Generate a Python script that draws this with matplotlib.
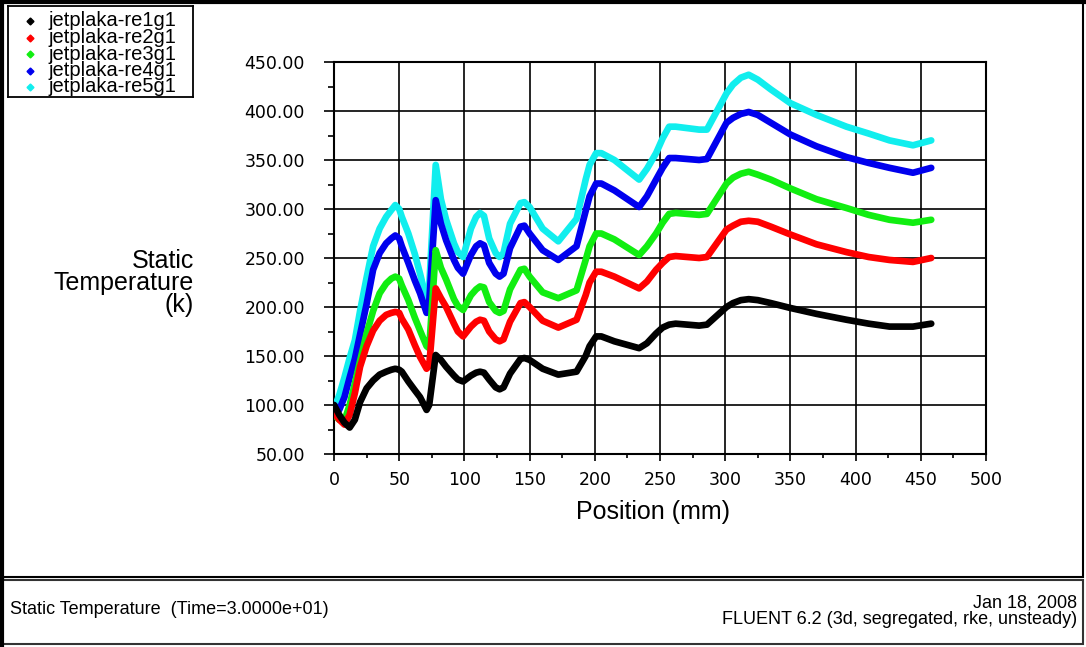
import matplotlib
matplotlib.use('Agg')
import matplotlib.pyplot as plt
from matplotlib.patches import Rectangle
from matplotlib.ticker import MultipleLocator, FormatStrFormatter

W, H = 1086, 647

# position along the plate (mm)
position = [0, 4, 8, 12, 16, 20, 25, 30, 35, 40,
            44, 47, 50, 52, 57, 62, 66, 71, 73, 78,
            82, 86, 92, 95, 99, 105, 109, 112, 115, 119,
            124, 127, 130, 135, 143, 146, 150, 160, 172, 186,
            193, 196, 201, 205, 215, 234, 240, 247, 252, 257,
            262, 280, 286, 301, 306, 312, 318, 325, 335, 350,
            370, 393, 410, 426, 444, 458]

# static temperature (k) for each case
re1g1 = [100, 90, 82, 77, 85, 103, 117, 125, 131, 134,
         136, 137, 136, 134, 124, 115, 108, 95, 100, 151,
         146, 139, 130, 126, 124, 130, 133, 134, 133, 126,
         118, 116, 118, 132, 147, 148, 146, 137, 131, 134,
         150, 160, 170, 170, 165, 158, 163, 173, 179, 182,
         183, 181, 182, 200, 204, 207, 208, 207, 204, 199,
         193, 187, 183, 180, 180, 183]
re2g1 = [92, 85, 80, 90, 112, 139, 160, 176, 186, 192,
         194, 195, 194, 188, 177, 161, 149, 137, 140, 219,
         209, 200, 183, 175, 170, 180, 185, 187, 186, 175,
         167, 165, 167, 185, 204, 205, 200, 186, 179, 187,
         212, 225, 236, 236, 231, 219, 226, 238, 245, 251,
         252, 250, 251, 279, 283, 287, 288, 287, 282, 274,
         264, 256, 251, 248, 246, 250]
re3g1 = [90, 85, 84, 100, 122, 145, 173, 196, 214, 224,
         229, 231, 229, 222, 207, 189, 176, 160, 158, 258,
         240, 228, 208, 201, 197, 212, 218, 221, 220, 205,
         196, 194, 196, 218, 238, 239, 231, 215, 209, 217,
         248, 262, 275, 275, 269, 253, 262, 275, 286, 295,
         296, 294, 295, 326, 332, 336, 338, 335, 330, 321,
         310, 301, 294, 289, 286, 289]
re4g1 = [100, 95, 108, 128, 147, 172, 203, 238, 255, 265,
         270, 273, 270, 262, 245, 227, 214, 194, 205, 309,
         285, 268, 248, 240, 234, 253, 262, 265, 263, 245,
         234, 231, 234, 260, 282, 283, 275, 258, 248, 262,
         298, 313, 326, 326, 319, 302, 313, 330, 342, 352,
         352, 350, 351, 388, 393, 397, 399, 396, 388, 376,
         364, 353, 347, 342, 337, 342]
re5g1 = [96, 110, 128, 148, 166, 196, 230, 262, 280, 292,
         299, 304, 300, 292, 275, 254, 234, 207, 220, 345,
         310, 289, 265, 256, 251, 280, 292, 296, 293, 270,
         255, 251, 255, 285, 306, 307, 302, 280, 267, 290,
         330, 345, 357, 357, 350, 330, 341, 357, 372, 384,
         384, 381, 381, 418, 427, 434, 437, 432, 422, 408,
         396, 384, 377, 370, 365, 370]

names = ['jetplaka-re1g1', 'jetplaka-re2g1', 'jetplaka-re3g1',
         'jetplaka-re4g1', 'jetplaka-re5g1']
series = [re1g1, re2g1, re3g1, re4g1, re5g1]
colors = ['#000000', '#ff0000', '#11ee11', '#0000ee', '#11eeee']

fig = plt.figure(figsize=(W / 100, H / 100), dpi=100)
fig.patch.set_facecolor('white')

# background layer in pixel coordinates for frames and footer
bg = fig.add_axes([0, 0, 1, 1])
bg.set_xlim(0, W)
bg.set_ylim(H, 0)
bg.axis('off')
bg.set_zorder(-1)
bg.add_patch(Rectangle((2, 2), 1081, 575, fill=False, ec='black', lw=1.5))
bg.plot([1.5, 1.5], [0, 578], color='black', lw=3)
bg.plot([0, 1084], [1.5, 1.5], color='black', lw=3)
bg.add_patch(Rectangle((2, 580), 1081, 64, fill=False, ec='#333333', lw=1.5))
bg.plot([1.5, 1.5], [579, 645], color='black', lw=3)

ffont = 'Liberation Sans'
bg.text(10, 609, 'Static Temperature  (Time=3.0000e+01)', fontsize=13,
        family=ffont, ha='left', va='center')
bg.text(1077, 603, 'Jan 18, 2008', fontsize=13, family=ffont,
        ha='right', va='center')
bg.text(1077, 620, 'FLUENT 6.2 (3d, segregated, rke, unsteady)',
        fontsize=13, family=ffont, ha='right', va='center')

# main plot
ax = fig.add_axes([334 / W, 1 - 454 / H, 652 / W, 392 / H])
for i in range(len(series) - 1, -1, -1):
    ax.plot(position, series[i], color=colors[i], lw=4.8,
            solid_joinstyle='round', solid_capstyle='round', zorder=3 + (5 - i))

ax.set_xlim(0, 500)
ax.set_ylim(50, 450)
ax.xaxis.set_major_locator(MultipleLocator(50))
ax.xaxis.set_minor_locator(MultipleLocator(25))
ax.yaxis.set_major_locator(MultipleLocator(50))
ax.yaxis.set_minor_locator(MultipleLocator(25))
ax.yaxis.set_major_formatter(FormatStrFormatter('%.2f'))
ax.grid(True, which='major', color='black', lw=1.2)
ax.set_axisbelow(True)
for s in ax.spines.values():
    s.set_color('black')
    s.set_linewidth(1.5)

ax.tick_params(axis='y', which='major', direction='out', length=7.5,
               width=1.2, pad=13.5, labelsize=12.5)
ax.tick_params(axis='y', which='minor', direction='out', length=4.5, width=1.2)
ax.tick_params(axis='x', which='major', direction='out', length=5,
               width=1.2, pad=7.5, labelsize=12.5)
ax.tick_params(axis='x', which='minor', direction='out', length=3, width=1.2)
for lab in ax.get_xticklabels() + ax.get_yticklabels():
    lab.set_family('DejaVu Sans')

ax.set_xlabel('Position (mm)', fontsize=18, family=ffont, va='top')
ax.xaxis.set_label_coords(0.49, -0.117)
ax.set_ylabel('Static\nTemperature\n(k)', fontsize=18, family=ffont,
              rotation=0, ha='right', va='center', multialignment='right',
              linespacing=0.9)
ax.yaxis.set_label_coords(-0.2147, 0.436)

# legend box, clipped at its bottom like the original
lax = fig.add_axes([8 / W, 1 - 97 / H, 185 / W, 91 / H])
lax.set_xlim(0, 185)
lax.set_ylim(91, 0)
lax.set_xticks([])
lax.set_yticks([])
for s in lax.spines.values():
    s.set_color('black')
    s.set_linewidth(1.3)
for i, name in enumerate(names):
    yy = 15 + 16.5 * i
    lax.plot([22], [yy], marker='D', ms=3.5, color=colors[i], clip_on=True)
    lax.text(40, yy, name, fontsize=14.5, family=ffont, ha='left',
             va='center', clip_on=True)

fig.savefig('out.png', dpi=100)
